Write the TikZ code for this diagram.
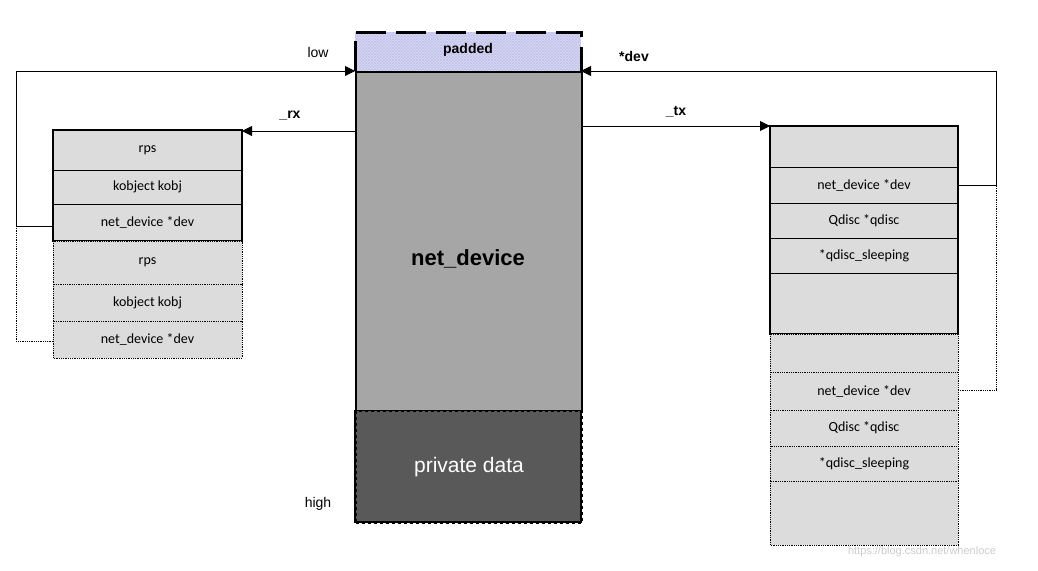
\documentclass[tikz,border=0pt]{standalone}
\usepackage{fontspec}
\setmainfont{Liberation Sans}
\newfontfamily\carlitofont{Carlito}
\usetikzlibrary{patterns,arrows.meta}
\definecolor{lg}{HTML}{DCDCDC}
\definecolor{mg}{HTML}{A6A6A6}
\definecolor{dg}{HTML}{595959}
\begin{document}
\begin{tikzpicture}[x=1pt,y=-1pt,
  row/.style={draw,fill=lg,line width=0.8pt},
  drow/.style={draw,fill=lg,densely dotted,line width=0.8pt},
  txt/.style={font=\carlitofont\fontsize{14}{16}\selectfont},
  lab/.style={font=\bfseries\fontsize{14}{16}\selectfont},
  arr/.style={-{Triangle[length=10pt,width=10pt]},line width=0.8pt}]
\useasboundingbox (0,0) rectangle (1038,570);
% main
\fill[lg] (355,32) rectangle (581,71);
\fill[pattern=crosshatch,pattern color=blue!25] (355,32) rectangle (581,71);
\draw[line width=3pt,dash pattern=on 30pt off 10pt] (355,71) -- (355,32) -- (581,32) -- (581,71);
\node[lab] (pad) at (468,50) {padded};
\node[draw,fill=mg,line width=2pt,minimum width=226pt,minimum height=339pt,inner sep=0,anchor=north west] (nd) at (355,71) {};
\node[font=\bfseries\fontsize{22}{26}\selectfont] at (468,259) {net\_device};
\node[draw,fill=dg,line width=2pt,dashed,minimum width=226pt,minimum height=112pt,inner sep=0,anchor=north west,text=white,font=\fontsize{21}{24}\selectfont] (pd) at (355,410) {private data};
\draw[line width=2pt] (355,410) -- (355,522) -- (581,522) -- (581,410);
\node[font=\fontsize{14}{16}\selectfont] at (318,52) {low};
\node[font=\fontsize{14}{16}\selectfont] at (318,504) {high};
\node[lab] at (634,56) {*dev};
% left box
\foreach \a/\b/\t/\n in {130/170/rps/l1,170/204/kobject kobj/l2,204/241/net\_device *dev/l3}{
  \draw[row] (53,\a) rectangle (242,\b); \node[txt] (\n) at (147.5,{(\a+\b)/2}) {\t};}
\draw[line width=2pt] (53,130) rectangle (242,241);
\foreach \a/\b/\t/\n in {241/284/rps/m1,284/321/kobject kobj/m2,321/358/net\_device *dev/m3}{
  \draw[drow] (53,\a) rectangle (242,\b); \node[txt] (\n) at (147.5,{(\a+\b)/2}) {\t};}
% right box
\foreach \a/\b/\t/\n in {126/167//r0,167/203/net\_device *dev/r1,203/238/Qdisc *qdisc/r2,238/273/*qdisc\_sleeping/r3,273/334//r4}{
  \draw[row] (770,\a) rectangle (958,\b); \node[txt] (\n) at (864,{(\a+\b)/2}) {\t};}
\draw[line width=2pt] (770,126) rectangle (958,334);
\foreach \a/\b/\t/\n in {334/372//s0,372/410/net\_device *dev/s1,410/446/Qdisc *qdisc/s2,446/481/*qdisc\_sleeping/s3,481/545//s4}{
  \draw[drow] (770,\a) rectangle (958,\b); \node[txt] (\n) at (864,{(\a+\b)/2}) {\t};}
% wires
\coordinate (lowp) at (355,71);
\coordinate (devp) at (581,71);
\draw[arr] (53,226) -- (16,226) -- (16,71) -- (lowp);
\draw[densely dotted,line width=0.8pt] (16,226) -- (16,341) -- (53,341);
\draw[arr] (958,185) -- (996,185) -- (996,71) -- (devp);
\draw[densely dotted,line width=0.8pt] (958,390) -- (996,390) -- (996,185);
\draw[arr] (355,131) -- (242,131);
\node[lab] at (290,116) {\_rx};
\draw[arr] (581,126) -- (770,126);
\node[lab] at (676,112) {\_tx};
\node[text=gray!40,font=\fontsize{11}{12}\selectfont] at (922,552) {https://blog.csdn.net/whenloce};
\end{tikzpicture}
\end{document}
